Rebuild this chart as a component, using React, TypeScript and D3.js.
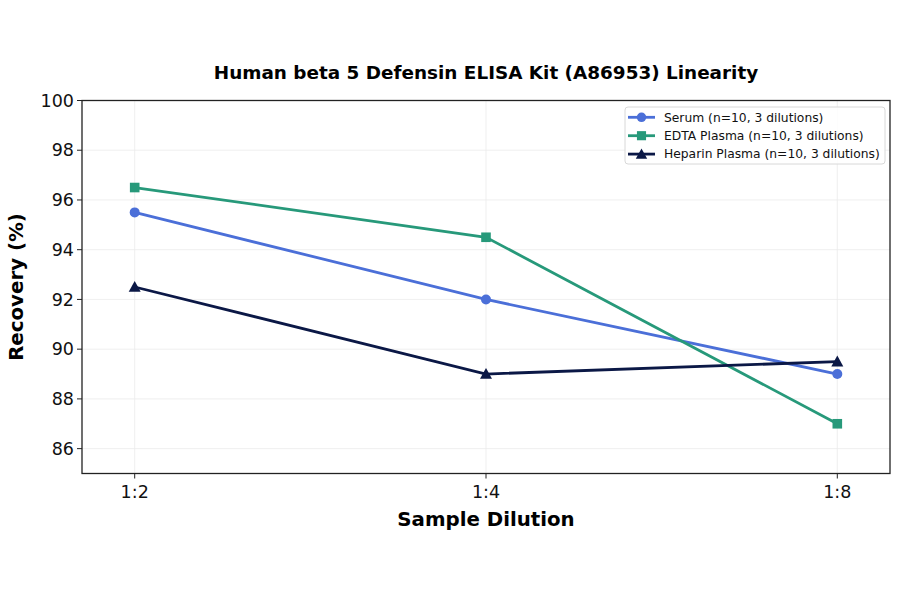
import React from "react";
import * as d3 from "d3";

const categories = ["1:2", "1:4", "1:8"];
const serum = [95.5, 92.0, 89.0];
const edta = [96.5, 94.5, 87.0];
const heparin = [92.5, 89.0, 89.5];
const yTicks = [86, 88, 90, 92, 94, 96, 98, 100];

const seriesList = [
  { name: "Serum (n=10, 3 dilutions)", values: serum, color: "#4b6fd8", marker: "circle" },
  { name: "EDTA Plasma (n=10, 3 dilutions)", values: edta, color: "#27997a", marker: "square" },
  { name: "Heparin Plasma (n=10, 3 dilutions)", values: heparin, color: "#0b1846", marker: "triangle" },
];

const W = 900, H = 594;
const L = 82, R = 890, T = 100.5, B = 473.5;
const FONT = "DejaVu Sans, sans-serif";

function Marker({ type, x, y, color, s = 1 }: any) {
  if (type === "circle") return <circle cx={x} cy={y} r={5 * s} fill={color} />;
  if (type === "square") return <rect x={x - 4.8 * s} y={y - 4.8 * s} width={9.6 * s} height={9.6 * s} fill={color} />;
  const r = 6 * s;
  return <path d={`M${x},${y - r}L${x + r},${y + r * 0.8}L${x - r},${y + r * 0.8}Z`} fill={color} />;
}

export default function App() {
  const x = d3.scaleLinear().domain([-0.15, 2.15]).range([L, R]);
  const y = d3.scaleLinear().domain([85, 100]).range([B, T]);
  const line = d3.line<number>().x((_, i) => x(i)).y((d) => y(d));

  const legX = 625, legY = 107, legW = 260, legH = 57, rowH = 18.4;

  return (
    <svg width={W} height={H} style={{ display: "block", position: "absolute", left: 0, top: 0 }} fontFamily={FONT}>
      <rect width={W} height={H} fill="#fff" />
      {yTicks.map((t) => (
        <line key={"gy" + t} x1={L} x2={R} y1={y(t)} y2={y(t)} stroke="#ebebeb" strokeWidth={0.8} />
      ))}
      {categories.map((c, i) => (
        <line key={"gx" + c} x1={x(i)} x2={x(i)} y1={T} y2={B} stroke="#ebebeb" strokeWidth={0.8} />
      ))}
      {seriesList.map((s) => (
        <g key={s.name}>
          <path d={line(s.values) || ""} fill="none" stroke={s.color} strokeWidth={2.8} />
          {s.values.map((v, i) => (
            <Marker key={i} type={s.marker} x={x(i)} y={y(v)} color={s.color} />
          ))}
        </g>
      ))}
      <rect x={L} y={T} width={R - L} height={B - T} fill="none" stroke="#222" strokeWidth={1.3} />
      {yTicks.map((t) => (
        <g key={"yt" + t}>
          <line x1={L - 5} x2={L} y1={y(t)} y2={y(t)} stroke="#222" strokeWidth={1} />
          <text x={L - 8} y={y(t)} dy="0.35em" textAnchor="end" fontSize={17.5} fill="#111">{t}</text>
        </g>
      ))}
      {categories.map((c, i) => (
        <g key={"xt" + c}>
          <line x1={x(i)} x2={x(i)} y1={B} y2={B + 5} stroke="#222" strokeWidth={1} />
          <text x={x(i)} y={B + 24} textAnchor="middle" fontSize={17.5} fill="#111">{c}</text>
        </g>
      ))}
      <text x={(L + R) / 2} y={79} textAnchor="middle" fontSize={18.4} fontWeight="bold" fill="#000">
        Human beta 5 Defensin ELISA Kit (A86953) Linearity
      </text>
      <text x={(L + R) / 2} y={526} textAnchor="middle" fontSize={19.8} fontWeight="bold" fill="#000">
        Sample Dilution
      </text>
      <text transform={`translate(23,${(T + B) / 2}) rotate(-90)`} textAnchor="middle" fontSize={19.8} fontWeight="bold" fill="#000">
        Recovery (%)
      </text>
      <rect x={legX} y={legY} width={legW} height={legH} rx={3} fill="#fff" fillOpacity={0.85} stroke="#d8d8d8" strokeWidth={1} />
      {seriesList.map((s, i) => {
        const cy = legY + 10.3 + i * rowH;
        return (
          <g key={"lg" + s.name}>
            <line x1={legX + 3} x2={legX + 30} y1={cy} y2={cy} stroke={s.color} strokeWidth={2.8} />
            <Marker type={s.marker} x={legX + 16.5} y={cy} color={s.color} s={0.95} />
            <text x={legX + 39} y={cy} dy="0.35em" fontSize={12.3} fill="#111">{s.name}</text>
          </g>
        );
      })}
    </svg>
  );
}
